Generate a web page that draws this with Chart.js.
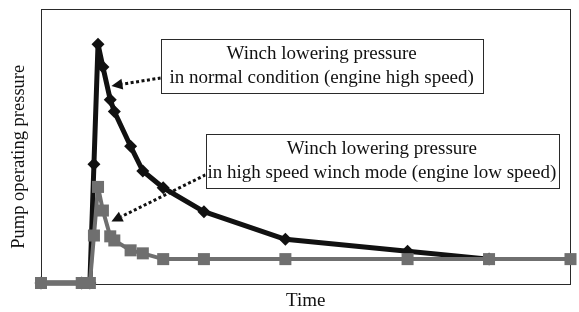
<!DOCTYPE html>
<html><head><meta charset="utf-8">
<script src="https://cdn.jsdelivr.net/npm/chart.js@4/dist/chart.umd.min.js"></script>
<style>html,body{margin:0;padding:0;background:#fff}#wrap{width:579px;height:312px}</style>
</head><body><div id="wrap"><canvas id="c" width="579" height="312"></canvas></div>
<script>
// ---- data ----
const timePoints        = [0, 5, 6, 6.5, 7, 7.6, 8.5, 9, 11, 12.5, 15, 20, 30, 45, 55, 65];
const normalPressure    = [0, 0, 0, 43.3, 87.0, 78.7, 66.8, 62.5, 49.8, 40.8, 34.7, 26.0, 15.9, 11.6, 8.7, null];
const highSpeedPressure = [0, 0, 0, 17.3, 35.0, 26.4, 17.0, 15.5, 11.9, 10.8, 8.7, 8.7, 8.7, 8.7, 8.7, 8.7];
const seriesNames = ['Winch lowering pressure in normal condition (engine high speed)',
                     'Winch lowering pressure in high speed winch mode (engine low speed)'];
const xAxisTitle = 'Time';
const yAxisTitle = 'Pump operating pressure';
const calloutNormalLines    = ['Winch lowering pressure', 'in normal condition (engine high speed)'];
const calloutHighSpeedLines = ['Winch lowering pressure', 'in high speed winch mode (engine low speed)'];

// ---- callouts, anchored in data units ----
const callouts = [
  {lines: calloutNormalLines,    xMin: 14.7, xMax: 54.2, yMin: 69.3, yMax: 88.8, fromY: 74.7, toX: 8.65, toY: 71.8},
  {lines: calloutHighSpeedLines, xMin: 20.2, xMax: 63.5, yMin: 34.7, yMax: 54.2, fromY: 39.4, toX: 8.65, toY: 22.4}
];

const FONT = "'Liberation Serif', 'Times New Roman', serif";

const pts = arr => timePoints.map((t, i) => ({x: t, y: arr[i]})).filter(p => p.y !== null);

const framePlugin = {
  id: 'frame',
  beforeDatasetsDraw(chart) {
    const {ctx, chartArea: a} = chart;
    ctx.save();
    ctx.strokeStyle = '#2a2a2a';
    ctx.lineWidth = 1;
    ctx.strokeRect(Math.round(a.left) + 0.5, Math.round(a.top) + 0.5, Math.round(a.right - a.left) - 1, Math.round(a.bottom - a.top));
    // y axis title, a little below the plot's middle as in the reference
    ctx.fillStyle = '#111';
    ctx.font = '18.5px ' + FONT;
    ctx.textAlign = 'center';
    ctx.textBaseline = 'middle';
    ctx.translate(19, (a.top + a.bottom) / 2 + 11);
    ctx.rotate(-Math.PI / 2);
    ctx.fillText(yAxisTitle, 0, 0);
    ctx.restore();
  }
};

const calloutPlugin = {
  id: 'callouts',
  afterDatasetsDraw(chart) {
    const {ctx, scales: {x, y}} = chart;
    ctx.save();
    callouts.forEach(c => {
      const l = x.getPixelForValue(c.xMin), r = x.getPixelForValue(c.xMax);
      const t = y.getPixelForValue(c.yMax), b = y.getPixelForValue(c.yMin);
      const sx = l, sy = y.getPixelForValue(c.fromY);
      const tx = x.getPixelForValue(c.toX), ty = y.getPixelForValue(c.toY);
      const ang = Math.atan2(ty - sy, tx - sx);
      const headLen = 11, headW = 5.5;
      const bx = tx - headLen * Math.cos(ang), by = ty - headLen * Math.sin(ang);
      ctx.setLineDash([3, 2.5]);
      ctx.lineWidth = 3;
      ctx.strokeStyle = '#111';
      ctx.beginPath();
      ctx.moveTo(sx, sy);
      ctx.lineTo(bx, by);
      ctx.stroke();
      ctx.setLineDash([]);
      ctx.fillStyle = '#111';
      ctx.beginPath();
      ctx.moveTo(tx, ty);
      ctx.lineTo(bx + headW * Math.sin(ang), by - headW * Math.cos(ang));
      ctx.lineTo(bx - headW * Math.sin(ang), by + headW * Math.cos(ang));
      ctx.closePath();
      ctx.fill();
      ctx.fillStyle = '#fff';
      ctx.fillRect(l, t, r - l, b - t);
      ctx.strokeStyle = '#2a2a2a';
      ctx.lineWidth = 1;
      ctx.strokeRect(Math.round(l) + 0.5, Math.round(t) + 0.5, Math.round(r - l), Math.round(b - t));
      ctx.fillStyle = '#111';
      ctx.font = '19px ' + FONT;
      ctx.textAlign = 'center';
      ctx.textBaseline = 'middle';
      const cx = (l + r) / 2, cy = (t + b) / 2, lh = 24;
      c.lines.forEach((s, i) => ctx.fillText(s, cx, cy + (i - (c.lines.length - 1) / 2) * lh));
    });
    ctx.restore();
  }
};

new Chart(document.getElementById('c'), {
  type: 'line',
  data: {
    datasets: [
      {
        label: seriesNames[1], data: pts(highSpeedPressure),
        borderColor: '#6f6f6f', backgroundColor: '#6f6f6f', borderWidth: 4, borderJoinStyle: 'bevel',
        pointStyle: 'rect', pointRadius: 8.5, pointBorderWidth: 0, pointBackgroundColor: '#6f6f6f',
        tension: 0, clip: false, order: 0
      },
      {
        label: seriesNames[0], data: pts(normalPressure),
        borderColor: '#111', backgroundColor: '#111', borderWidth: 5, borderJoinStyle: 'bevel',
        pointStyle: 'rectRot', pointRadius: 6.5, pointBorderWidth: 0, pointBackgroundColor: '#111',
        tension: 0, clip: false, order: 1
      }
    ]
  },
  options: {
    responsive: false, animation: false, devicePixelRatio: 1,
    layout: {padding: {top: 6, right: 4, left: 0, bottom: 0}},
    plugins: {legend: {display: false}, tooltip: {enabled: false}},
    scales: {
      x: {
        type: 'linear', min: 0, max: 65,
        ticks: {display: false}, grid: {display: false},
        border: {display: false},
        title: {display: true, text: xAxisTitle, color: '#111', font: {family: FONT, size: 19}, padding: {top: 0, bottom: 0}},
        afterFit(s) { s.height = 29; }
      },
      y: {
        min: 0, max: 100,
        ticks: {display: false}, grid: {display: false},
        border: {display: false},
        title: {display: false, text: yAxisTitle},
        afterFit(s) { s.width = 41; }
      }
    }
  },
  plugins: [framePlugin, calloutPlugin]
});
</script></body></html>
